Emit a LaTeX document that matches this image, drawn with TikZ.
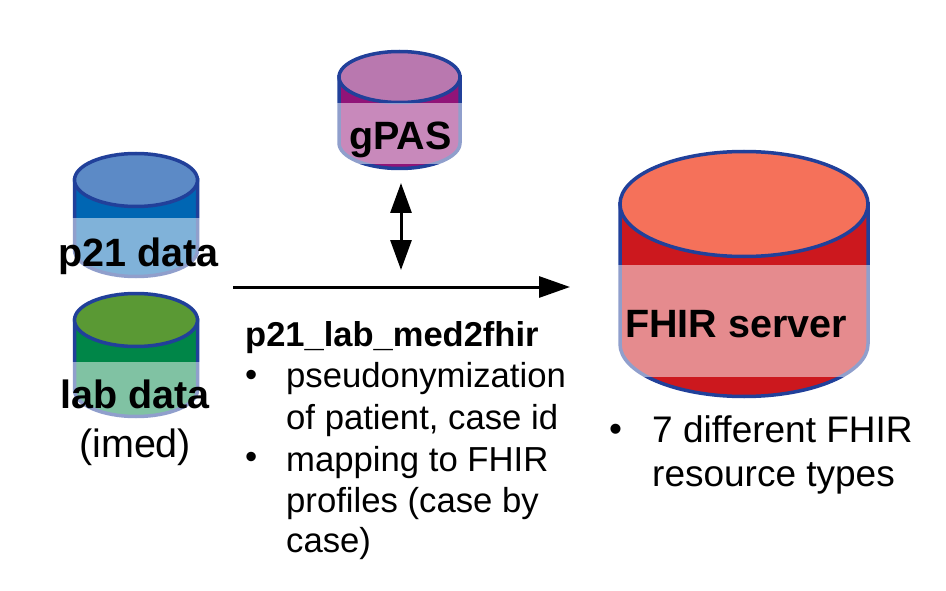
\documentclass[tikz,border=0pt]{standalone}
\usepackage{fontspec}
\setmainfont{Liberation Sans}
\usetikzlibrary{arrows.meta}
\definecolor{edgeBlue}{RGB}{33,64,154}
\definecolor{pBand}{RGB}{0,102,179}
\definecolor{pTop}{RGB}{92,138,198}
\definecolor{labBand}{RGB}{0,134,72}
\definecolor{labTop}{RGB}{90,153,52}
\definecolor{gpasBand}{RGB}{145,20,120}
\definecolor{gpasTop}{RGB}{185,120,175}
\definecolor{fhirBand}{RGB}{204,24,30}
\definecolor{fhirTop}{RGB}{245,113,90}
\tikzset{
  title/.style={anchor=base west, inner sep=0pt, font=\fontsize{39.5}{39.5}\selectfont\bfseries},
  body/.style={anchor=base west, inner sep=0pt, font=\fontsize{37}{37}\selectfont},
  note/.style={anchor=base west, inner sep=0pt, font=\fontsize{34.7}{34.7}\selectfont},
  flow/.style={line width=3pt, -{Stealth[length=31pt, width=21pt, inset=0pt]}},
  both/.style={line width=3pt, {Stealth[length=30pt, width=21pt, inset=0pt]}-{Stealth[length=30pt, width=21pt, inset=0pt]}},
}
% cx, y of top ellipse, rx, ry, y of bottom ellipse, side colour, lid colour, pale band from, pale band to
\newcommand{\datastore}[9]{
  \filldraw[fill=#6, draw=edgeBlue, line width=3.5pt]
    (#1-#3,#2) -- (#1-#3,#5) arc[start angle=180, end angle=360, x radius=#3, y radius=-#4]
    -- (#1+#3,#2) -- cycle;
  \filldraw[fill=#7, draw=edgeBlue, line width=3.5pt] (#1,#2) ellipse[x radius=#3, y radius=#4];
  \fill[white, opacity=0.5] (#1-#3-3,#8) rectangle (#1+#3+3,#9);
}
\begin{document}
\begin{tikzpicture}[x=1pt, y=-1pt]
\useasboundingbox (0,0) rectangle (946,591);

% --- Data stores ---------------------------------------------------
\datastore{136}{180}{61.5}{26.5}{250}{pBand}{pTop}{218}{280}
\datastore{136}{320}{61.5}{26.5}{390}{labBand}{labTop}{362}{420}
\datastore{399.5}{77}{60.5}{25.5}{143}{gpasBand}{gpasTop}{103}{164}
\datastore{744}{204}{124}{52.5}{344}{fhirBand}{fhirTop}{265}{377}

% Store labels
\node[title] (p21) at (58,266) {p21 data};
\node[title] (lab) at (60,408) {lab data};
\node[body, font=\fontsize{39.5}{39.5}\selectfont] (imed) at (79,457) {(imed)};
\node[title] (gpas) at (349,150) {gPAS};
\node[title] (fhir) at (625,337) {FHIR server};

% Connectors
\coordinate (flowstart) at (233,287);
\coordinate (flowend) at (570,287);
\coordinate (gpastop) at (401,183);
\coordinate (gpasend) at (401,270);
\draw[flow] (flowstart) -- (flowend);
\draw[both] (gpastop) -- (gpasend);

% Pipeline notes
\node[note, font=\fontsize{34.5}{34.5}\selectfont\bfseries] (tool) at (245,346) {p21\_lab\_med2fhir};
\foreach \name/\x/\y/\txt in {
  dota/245/386/•, pseudo/286/387/pseudonymization, ofpat/286/429/{of patient, case id},
  dotb/245/468/•, mapto/286/471/mapping to FHIR, prof/286/512/profiles (case by, casew/286/552/case)} {
  \node[note] (\name) at (\x,\y) {\txt};
}

% FHIR notes
\node[body] (dotc) at (609,441) {•};
\node[body] (seven) at (652,442) {7 different FHIR};
\node[body] (restypes) at (652,486) {resource types};
\end{tikzpicture}
\end{document}
